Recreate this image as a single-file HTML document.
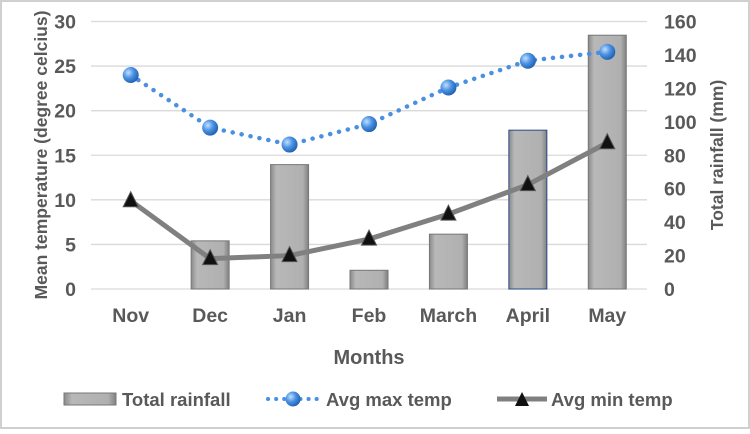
<!DOCTYPE html>
<html><head><meta charset="utf-8"><style>
body{margin:0;background:#fff;font-family:"Liberation Sans",sans-serif}
svg text{font-family:"Liberation Sans",sans-serif;font-weight:bold;fill:#595959}
</style></head><body>
<svg width="750" height="429" xmlns="http://www.w3.org/2000/svg">
<defs>
<linearGradient id="bg" x1="0" x2="1" y1="0" y2="0"><stop offset="0" stop-color="#8a8a8a"/><stop offset="0.15" stop-color="#b8b8b8"/><stop offset="0.85" stop-color="#b0b0b0"/><stop offset="1" stop-color="#808080"/></linearGradient>
<radialGradient id="dot" cx="0.35" cy="0.35" r="0.7"><stop offset="0" stop-color="#bfe0ff"/><stop offset="0.5" stop-color="#4a90e2"/><stop offset="1" stop-color="#1f5fae"/></radialGradient>
</defs>
<rect x="1" y="1" width="748" height="427" fill="#fff" stroke="#d0d0d0" stroke-width="2"/>
<g id="g"></g>
<text x="0" y="0" transform="translate(47,155) rotate(-90)" text-anchor="middle" font-size="17.5">Mean temperature (degree celcius)</text>
<text x="0" y="0" transform="translate(723,155) rotate(-90)" text-anchor="middle" font-size="17.5">Total rainfall (mm)</text>
<text x="369" y="364" text-anchor="middle" font-size="20">Months</text>
<g>
<rect x="64" y="393" width="52" height="12" fill="url(#bg)" stroke="#777"/>
<text x="122" y="406" font-size="18.5">Total rainfall</text>
<line x1="268" y1="399" x2="318" y2="399" stroke="#4a90e2" stroke-width="4" stroke-dasharray="0.1 8" stroke-linecap="round"/>
<circle cx="293" cy="399" r="7.5" fill="url(#dot)"/>
<text x="326" y="406" font-size="18.5">Avg max temp</text>
<line x1="497" y1="399" x2="547" y2="399" stroke="#808080" stroke-width="5"/>
<path d="M522,392 L529,406 L515,406 Z" fill="#111"/>
<text x="551" y="406" font-size="18.5">Avg min temp</text>
</g>
</svg>
<script>
const months=["Nov","Dec","Jan","Feb","March","April","May"];
const rainfall=[0,28.8,74.4,11.2,32.8,95,151.8];
const maxTemp=[24,18.1,16.2,18.5,22.6,25.6,26.6];
const minTemp=[9.9,3.4,3.75,5.6,8.4,11.7,16.4];
const leftTicks=[0,5,10,15,20,25,30];
const rightTicks=[0,20,40,60,80,100,120,140,160];
const ns="http://www.w3.org/2000/svg",g=document.getElementById("g");
const top_=21.5,bot=289,L=91,R=647;
const yL=v=>bot-(v/30)*(bot-top_);
const yR=v=>bot-(v/160)*(bot-top_);
const step=(R-L)/months.length;
const x=i=>L+step*(i+0.5);
function mk(t,a){const e=document.createElementNS(ns,t);for(const k in a)e.setAttribute(k,a[k]);g.appendChild(e);return e;}
leftTicks.forEach(v=>{
 const l=mk("line",{x1:L,x2:R,y1:yL(v),y2:yL(v),stroke:"#d9d9d9","stroke-width":1.3});
 
 
 const t=mk("text",{x:76,y:yL(v)+7,"text-anchor":"end","font-size":"19.5"});t.textContent=v;
 
 
});
rightTicks.forEach(v=>{
 const t=mk("text",{x:664,y:yR(v)+7,"font-size":"19.5"});t.textContent=v;
 
 
});
months.forEach((m,i)=>{
 const t=mk("text",{x:x(i),y:322,"text-anchor":"middle","font-size":"19.5"});t.textContent=m;
 
 
 if(rainfall[i]>0){
  const b=mk("rect",{x:x(i)-19,y:yR(rainfall[i]),width:38,height:bot-yR(rainfall[i]),fill:"url(#bg)",stroke:i==5?"#2a4a8a":"#777","stroke-width":1});
  
  
 }
});
const pmax=maxTemp.map((v,i)=>x(i)+","+yL(v)).join(" ");
const lm=mk("polyline",{points:pmax,fill:"none",stroke:"#4a90e2","stroke-width":4.5,"stroke-dasharray":"0.1 9","stroke-linecap":"round"});


const pmin=minTemp.map((v,i)=>x(i)+","+yL(v)).join(" ");
const ln=mk("polyline",{points:pmin,fill:"none",stroke:"#808080","stroke-width":5,"stroke-linejoin":"round"});


maxTemp.forEach((v,i)=>{
 const c=mk("circle",{cx:x(i),cy:yL(v),r:8,fill:"url(#dot)"});
 
 
});
minTemp.forEach((v,i)=>{
 const X=x(i),Y=yL(v);
 const p=mk("path",{d:`M${X},${Y-9} L${X+7.5},${Y+6} L${X-7.5},${Y+6} Z`,fill:"#111",stroke:"#555","stroke-width":1});
 
 
});
</script>
</body></html>
